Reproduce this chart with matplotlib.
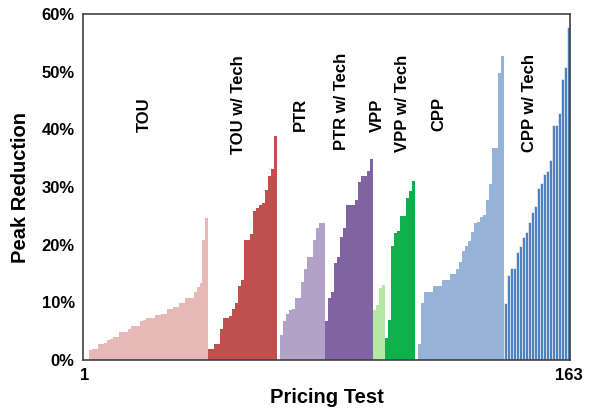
import numpy as np
import matplotlib
matplotlib.use('Agg')
import matplotlib.pyplot as plt

# peak reduction (%) per pricing test, sorted within each program type
tou = [0, 0, 1.8, 1.9, 1.9, 2.7, 2.8, 3.0, 3.5, 3.7, 4.0, 4.0, 4.85, 4.85, 4.85,
       5.4, 5.9, 5.9, 5.9, 6.8, 6.9, 7.2, 7.3, 7.3, 7.8, 7.8, 7.9, 7.9, 8.8, 8.8,
       9.2, 9.2, 9.9, 9.9, 10.7, 10.7, 10.7, 11.8, 12.6, 13.3, 20.8, 24.7]
tou_tech = [1.85, 1.85, 2.8, 2.8, 5.4, 7.3, 7.3, 7.6, 8.8, 9.9, 12.8, 13.9,
            20.8, 20.8, 21.8, 25.9, 26.3, 26.9, 27.2, 29.5, 31.9, 33.1, 38.8]
ptr = [0, 4.3, 6.8, 8.0, 8.7, 8.8, 10.7, 10.7, 13.5, 15.8, 17.9, 17.9, 20.8,
       22.9, 23.7, 23.7]
ptr_tech = [6.8, 10.7, 11.8, 16.8, 17.9, 21.3, 22.9, 26.9, 26.9, 26.9, 27.7,
            30.8, 31.9, 31.9, 32.8, 34.8]
vpp = [8.7, 9.5, 12.5, 13.0]
vpp_tech = [3.8, 6.9, 19.8, 22.0, 22.4, 25.0, 25.0, 28.1, 29.3, 31.0]
cpp = [0, 2.8, 9.9, 11.8, 11.8, 11.8, 12.8, 12.8, 12.8, 13.9, 13.9, 13.9, 14.9,
       14.9, 15.8, 17.0, 18.9, 19.8, 20.6, 22.2, 23.7, 23.9, 24.8, 25.1, 27.7,
       30.5, 36.7, 36.7, 49.7, 52.7]
cpp_tech = [9.9, 14.7, 15.9, 15.9, 18.7, 19.8, 21.3, 22.2, 23.9, 25.7, 26.7,
            29.8, 30.7, 32.2, 32.8, 34.7, 40.7, 40.7, 42.8, 48.7, 50.8, 57.7]

groups = [tou, tou_tech, ptr, ptr_tech, vpp, vpp_tech, cpp, cpp_tech]
names = ['TOU', 'TOU w/ Tech', 'PTR', 'PTR w/ Tech', 'VPP', 'VPP w/ Tech',
         'CPP', 'CPP w/ Tech']
colors = ['#e6b9b8', '#c0504d', '#b3a2c7', '#8064a2', '#b5e8a6', '#0db04b',
          '#95b3d7', '#4f81bd']
label_pos = [(21.1, 42.5), (52.4, 44.2), (73.1, 42.6), (86.9, 44.8),
             (98.9, 42.5), (107.3, 44.5), (119.6, 42.7), (150.1, 44.6)]

plt.rcParams['font.family'] = ['Liberation Sans', 'DejaVu Sans']
plt.rcParams['font.weight'] = 'bold'

fig = plt.figure(figsize=(5.91, 4.13), dpi=100)
ax = fig.add_axes([0.1404, 0.1283, 0.8241, 0.8378])

start = 1
for vals, name, c, pos in zip(groups, names, colors, label_pos):
    x = np.arange(start, start + len(vals))
    if name == 'CPP w/ Tech':
        ax.bar(x, vals, width=1.0, color=c, edgecolor='white', linewidth=0.4)
    else:
        ax.bar(x, vals, width=1.0, color=c, linewidth=0)
    ax.text(pos[0], pos[1], name, rotation=90, ha='center', va='center',
            fontsize=12, fontweight='bold')
    start += len(vals)

ax.set_xlim(0.5, 163.5)
ax.set_ylim(0, 60)
ax.set_xticks([1, 163])
ax.set_xticklabels(['1', '163'])
ax.set_yticks(range(0, 61, 10))
ax.set_yticklabels(['%d%%' % v for v in range(0, 61, 10)])
ax.tick_params(length=0, labelsize=12, pad=6)
for s in ax.spines.values():
    s.set_color('#404040')
    s.set_linewidth(1.2)
ax.set_xlabel('Pricing Test', fontsize=14.5, fontweight='bold', labelpad=3)
ax.set_ylabel('Peak Reduction', fontsize=14.5, fontweight='bold', labelpad=8)

fig.savefig('out.png', dpi=100)
